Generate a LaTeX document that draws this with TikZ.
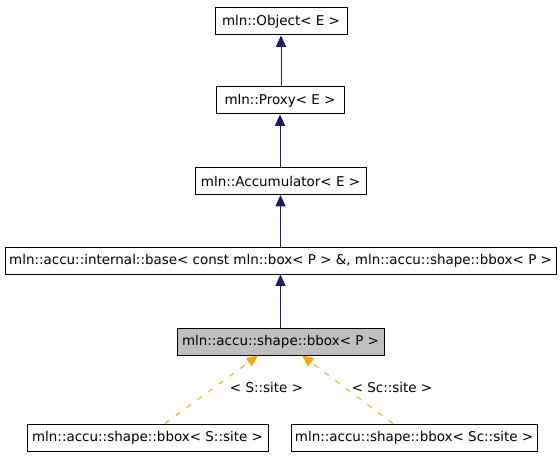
\documentclass[tikz,border=0pt]{standalone}
\usepackage{fontspec}
\setmainfont{DejaVu Sans}
\usetikzlibrary{arrows.meta,calc}
\definecolor{edgeblue}{RGB}{25,25,112}
\definecolor{edgeorange}{RGB}{255,165,0}
\definecolor{boxgray}{RGB}{191,191,191}
\begin{document}
\begin{tikzpicture}[x=0.75pt,y=-0.75pt,
  cls/.style={draw=black,line width=0.75pt,fill=white,minimum height=20.25pt,inner sep=0pt,font=\fontsize{10.1pt}{12pt}\selectfont},
  inherit/.style={draw=edgeblue,line width=0.75pt,-{Triangle[length=8.5pt,width=7.5pt]}},
  tmpl/.style={draw=edgeorange,line width=0.75pt,dash pattern=on 4pt off 6pt,-{Triangle[length=8.5pt,width=7.5pt]}},
  lbl/.style={font=\fontsize{10.1pt}{12pt}\selectfont,inner sep=0pt}]
\useasboundingbox (0,0) rectangle (560,456);
\node[cls,minimum width=99pt] (obj) at (281,21.5) {mln::Object< E >};
\node[cls,minimum width=96pt] (proxy) at (280,100.5) {mln::Proxy< E >};
\node[cls,minimum width=128.25pt] (acc) at (280.5,181) {mln::Accumulator< E >};
\node[cls,minimum width=413.25pt] (base) at (280.5,260.5) {mln::accu::internal::base< const mln::box< P > \&, mln::accu::shape::bbox< P >};
\node[cls,minimum width=155.25pt,fill=boxgray] (bbox) at (280.5,341.5) {mln::accu::shape::bbox< P >};
\node[cls,minimum width=180.75pt] (sleaf) at (147.5,437.5) {mln::accu::shape::bbox< S::site >};
\node[cls,minimum width=184.5pt] (scleaf) at (414,437.5) {mln::accu::shape::bbox< Sc::site >};
\draw[inherit] (proxy.north -| obj.south) -- (obj.south);
\draw[inherit] (acc.north -| proxy.south) -- (proxy.south);
\draw[inherit] (base.north -| acc.south) -- (acc.south);
\draw[inherit] (bbox.north -| base.south) -- (base.south -| bbox.north);
\coordinate (sfrom) at ($(sleaf.north)+(17.5,0)$);
\coordinate (sto) at ($(bbox.south)+(-22.5,0)$);
\coordinate (scfrom) at ($(scleaf.north)+(-21,0)$);
\coordinate (scto) at ($(bbox.south)+(21.5,0)$);
\draw[tmpl] (sfrom) -- (sto);
\draw[tmpl] (scfrom) -- (scto);
\node[lbl] (slbl) at (266.5,387) {< S::site >};
\node[lbl] (sclbl) at (392,387) {< Sc::site >};
\end{tikzpicture}
\end{document}
